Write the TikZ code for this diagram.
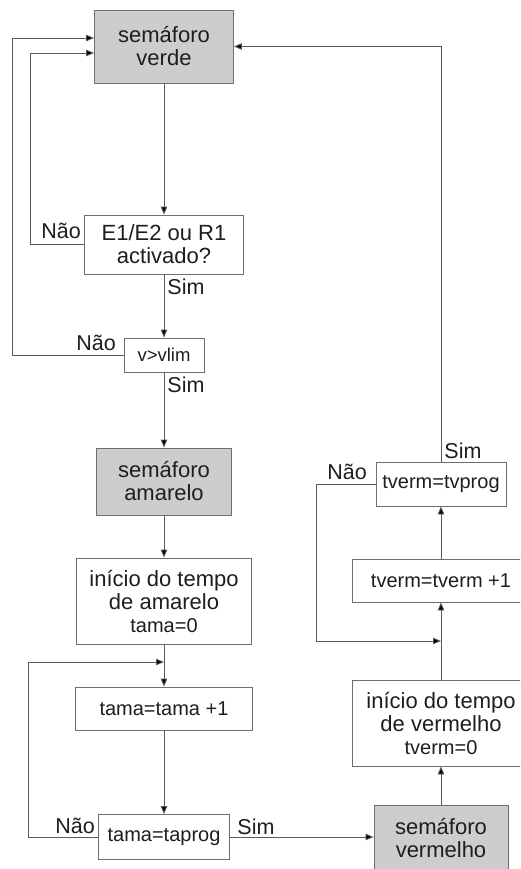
\documentclass[tikz,border=0pt]{standalone}
\usepackage{fontspec}
\setmainfont{Liberation Sans}
\usetikzlibrary{arrows.meta}

\definecolor{boxline}{HTML}{6E6E6E}
\definecolor{wire}{HTML}{5A5A5A}
\definecolor{lamp}{HTML}{CDCDCD}
\definecolor{ink}{HTML}{1E1E1E}

\tikzset{
  box/.style={draw=boxline, line width=0.9pt, fill=white, inner sep=0pt,
    align=center, text=ink, font=\fontsize{22}{23}\selectfont},
  lampbox/.style={box, fill=lamp},
  smallbox/.style={box, font=\fontsize{20}{22}\selectfont},
  lbl/.style={inner sep=0pt, text=ink, font=\fontsize{21.5}{22}\selectfont},
  wirestyle/.style={draw=wire, line width=0.9pt},
  arr/.style={wirestyle, -{Triangle[length=8pt,width=6.5pt,fill=black]}},
}

\begin{document}
\begin{tikzpicture}[x=1pt, y=-1pt]
  \clip (0,0) rectangle (520,869);
  \fill[white] (0,0) rectangle (520,869);

  % left column: green and amber phases
  \node[lampbox, minimum width=139pt, minimum height=73pt] (verde) at (164,46.5) {semáforo\\verde};
  \node[box, minimum width=159pt, minimum height=59pt] (e1) at (164,244.5) {E1/E2 ou R1\\activado?};
  \node[box, minimum width=80pt, minimum height=34pt, font=\fontsize{18.5}{20}\selectfont] (vl) at (164,355) {v>vlim};
  \node[lampbox, minimum width=135pt, minimum height=67pt] (am) at (164,481.5) {semáforo\\amarelo};
  \node[box, minimum width=175pt, minimum height=86pt] (ia) at (164,601) {início do tempo\\de amarelo\\{\fontsize{20}{22}\selectfont tama=0}};
  \node[smallbox, minimum width=177pt, minimum height=43pt] (t1) at (164,708.5) {tama=tama +1};
  \node[smallbox, minimum width=131pt, minimum height=45pt] (tp) at (164,837) {tama=taprog};

  % right column: red phase
  \node[lampbox, minimum width=134pt, minimum height=66pt] (vr) at (441,838) {semáforo\\vermelho};
  \node[box, minimum width=178pt, minimum height=86pt] (iv) at (441,723) {início do tempo\\de vermelho\\{\fontsize{20}{22}\selectfont tverm=0}};
  \node[smallbox, minimum width=178pt, minimum height=43pt] (v1) at (441,580.5) {tverm=tverm +1};
  \node[smallbox, minimum width=130pt, minimum height=44pt] (tv) at (441,484) {tverm=tvprog};

  % bends of the return paths
  \coordinate (c1) at (30,53);
  \coordinate (c2) at (12,38);
  \coordinate (c3) at (28,662);
  \coordinate (j1) at (164,662);
  \coordinate (c4) at (316,641);
  \coordinate (j2) at (441,641);

  % main flow
  \draw[arr] (verde.south) -- (e1.north);
  \draw[arr] (e1.south) -- (vl.north);
  \draw[arr] (vl.south) -- (am.north);
  \draw[arr] (am.south) -- (ia.north);
  \draw[arr] (ia.south) -- (t1.north);
  \draw[arr] (t1.south) -- (tp.north);
  \draw[arr] (tp.east) -- (tp.east -| vr.west);
  \draw[arr] (vr.north) -- (iv.south);
  \draw[arr] (iv.north) -- (v1.south);
  \draw[arr] (v1.north) -- (tv.south);
  \draw[arr] (tv.north) |- (verde.east);

  % "Não" loops
  \draw[arr] (e1.west) -| (c1) -- (verde.west |- c1);
  \draw[arr] (vl.west) -| (c2) -- (verde.west |- c2);
  \draw[arr] (tp.west) -| (c3) -- (j1);
  \draw[arr] (tv.west) -| (c4) -- (j2);

  % branch labels
  \node[lbl] (n1) at (61,231) {Não};
  \node[lbl] (s1) at (186,287) {Sim};
  \node[lbl] (n2) at (96,343) {Não};
  \node[lbl] (s2) at (186,385) {Sim};
  \node[lbl] (n3) at (75,826) {Não};
  \node[lbl] (s3) at (256,827) {Sim};
  \node[lbl] (n4) at (347,472) {Não};
  \node[lbl] (s4) at (463,451) {Sim};
\end{tikzpicture}
\end{document}
